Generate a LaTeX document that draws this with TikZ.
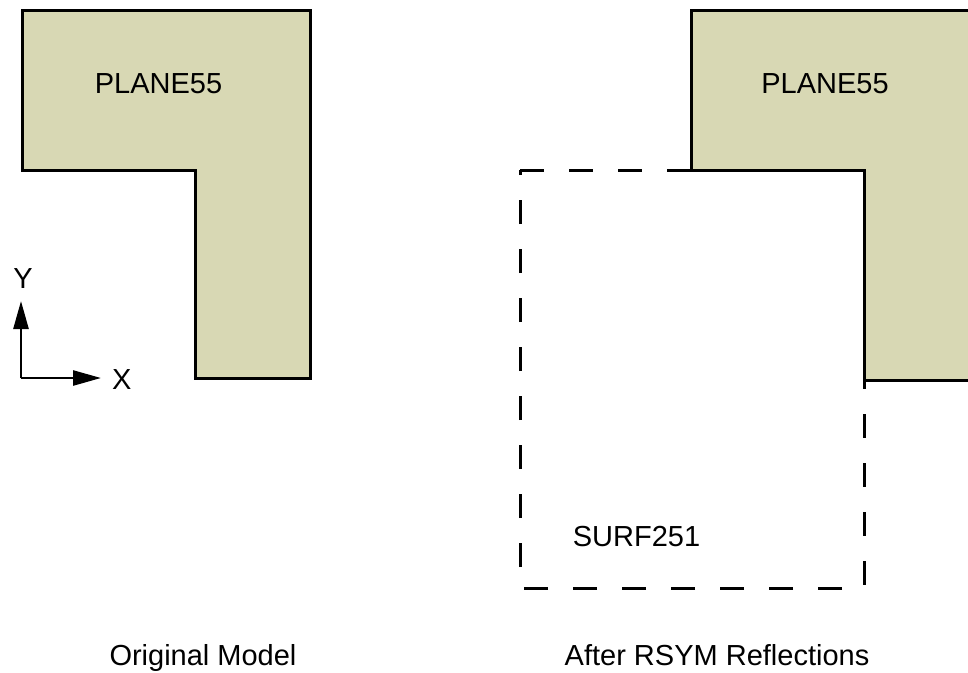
\documentclass[tikz,border=0pt]{standalone}
\usepackage{fontspec}
\setmainfont{Liberation Sans}
\usetikzlibrary{arrows.meta}
\definecolor{platefill}{RGB}{216,216,180}
\tikzset{
  plate/.style={fill=platefill,draw=black,line width=3pt,line join=miter},
  dashbox/.style={draw=black,line width=3pt,dash pattern=on 24pt off 25pt},
  axisarrow/.style={line width=2.6pt,-{Triangle[length=28pt,width=15pt]}},
  lbl/.style={anchor=base,inner sep=0pt,font=\fontsize{29}{34}\selectfont}
}
\begin{document}
\begin{tikzpicture}[x=1pt,y=-1pt]
\useasboundingbox (0,0) rectangle (968,672);
% left plate
\draw[plate] (22,10) -- (310,10) -- (310,378) -- (195,378) -- (195,170) -- (22,170) -- cycle;
% right plate
\draw[plate] (691,10) -- (980,10) -- (980,380) -- (864,380) -- (864,170) -- (691,170) -- cycle;
% dashed reflected area
\draw[dashbox] (520,170) -- (864,170) -- (864,588) -- (520,588) -- cycle;
% axes
\coordinate (o) at (21,378);
\coordinate (ytip) at (21,301);
\coordinate (xtip) at (101,378);
\draw[axisarrow] (o) -- (ytip);
\draw[axisarrow] (o) -- (xtip);
\node[lbl] (ylab) at (23,288) {Y};
\node[lbl,anchor=base west] (xlab) at (112,389) {X};
% labels
\node[lbl] (p1) at (158.5,93) {PLANE55};
\node[lbl] (p2) at (825,93) {PLANE55};
\node[lbl] (s) at (636.5,546) {SURF251};
\node[lbl] (t1) at (203,665) {Original Model};
\node[lbl] (t2) at (717,665) {After RSYM Reflections};
\end{tikzpicture}
\end{document}
